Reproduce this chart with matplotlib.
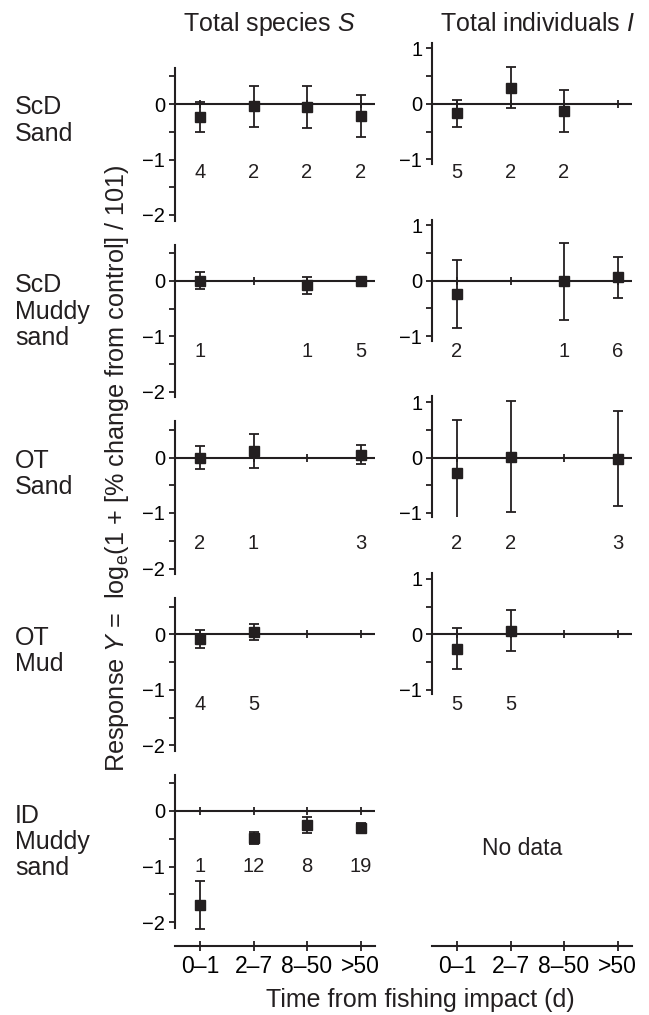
import numpy as np
import matplotlib
matplotlib.use("Agg")
import matplotlib.pyplot as plt

plt.rcParams['font.family'] = ['Liberation Sans', 'DejaVu Sans']
plt.rcParams['mathtext.fontset'] = 'custom'
plt.rcParams['mathtext.rm'] = 'Liberation Sans'
plt.rcParams['mathtext.it'] = 'Liberation Sans:italic'

nan = np.nan

# time classes and habitat rows
times = ["0–1", "2–7", "8–50", ">50"]
habitats = ["ScD\nSand", "ScD\nMuddy\nsand", "OT\nSand", "OT\nMud", "ID\nMuddy\nsand"]

# total species S (mean response, error, number of studies)
species_mean = [
    [-0.23, -0.045, -0.055, -0.215],
    [0.0, nan, -0.08, -0.01],
    [0.0, 0.12, nan, 0.05],
    [-0.08, 0.035, nan, nan],
    [-1.70, -0.485, -0.25, -0.30],
]
species_err = [
    [0.27, 0.375, 0.375, 0.375],
    [0.15, nan, 0.15, 0.05],
    [0.20, 0.31, nan, 0.17],
    [0.165, 0.145, nan, nan],
    [0.43, 0.115, 0.15, 0.08],
]
species_n = [
    ["4", "2", "2", "2"],
    ["1", "", "1", "5"],
    ["2", "1", "", "3"],
    ["4", "5", "", ""],
    ["1", "12", "8", "19"],
]

# total individuals I (no data for ID muddy sand)
indiv_mean = [
    [-0.17, 0.295, -0.12, nan],
    [-0.24, nan, -0.01, 0.06],
    [-0.28, 0.015, nan, -0.02],
    [-0.26, 0.065, nan, nan],
]
indiv_err = [
    [0.24, 0.375, 0.38, nan],
    [0.61, nan, 0.69, 0.37],
    [0.96, 1.0, nan, 0.86],
    [0.37, 0.365, nan, nan],
]
indiv_n = [
    ["5", "2", "2", ""],
    ["2", "", "1", "6"],
    ["2", "2", "", "3"],
    ["5", "5", "", ""],
]

# height of the n labels in each row (data units)
n_label_y = [-1.24, -1.28, -1.55, -1.27, -1.0]

W, H = 649, 1015
INK = '#231f20'
unit_px = 55.5
zero_px = [104 + 176.75 * i for i in range(5)]
xlims = (-0.467, 3.27)

fig = plt.figure(figsize=(W / 100, H / 100), dpi=100)


def add_panel(x0, ylim, z):
    top = z - ylim[1] * unit_px
    bottom = z - ylim[0] * unit_px
    ax = fig.add_axes([x0 / W, 1 - bottom / H, 200 / W, (bottom - top) / H])
    ax.set_xlim(*xlims)
    ax.set_ylim(*ylim)
    ax.patch.set_alpha(0)
    for s in ['top', 'right', 'bottom']:
        ax.spines[s].set_visible(False)
    for s in ['left', 'bottom']:
        ax.spines[s].set_linewidth(1.5)
        ax.spines[s].set_color(INK)
    ax.set_xticks([])
    ax.tick_params(axis='y', which='both', direction='out', length=4.5,
                   width=1.3, color=INK, labelsize=14.5, pad=2.5)
    return ax


def draw_series(ax, mean, err, nlab, ny):
    x = np.arange(len(times))
    ax.axhline(0, color=INK, lw=1.5, zorder=1)
    ax.plot(x, np.zeros(len(x)), '|', ms=5.5, mew=1.3, color=INK, zorder=2)
    ax.errorbar(x, mean, yerr=err, fmt='s', ms=7, color=INK, ecolor=INK,
                elinewidth=1.3, capsize=3.6, capthick=1.3, zorder=3)
    for j, n in enumerate(nlab):
        ax.text(j, ny, n, ha='center', va='center', fontsize=14.5, color=INK)


def bottom_axis(ax):
    ax.spines['bottom'].set_visible(True)
    ax.set_xticks(range(len(times)))
    ax.set_xticklabels(times)
    ax.tick_params(axis='x', direction='inout', length=7, width=1.3,
                   color=INK, labelsize=16.5, pad=3)


for i in range(5):
    z = zero_px[i]
    last = i == 4
    ylim = (-2.43, 0.65) if last else (-2.1, 0.65)
    ax = add_panel(175, ylim, z)
    ax.set_yticks([-2, -1, 0])
    ax.set_yticks([-1.5, -0.5, 0.5], minor=True)
    draw_series(ax, species_mean[i], species_err[i], species_n[i], n_label_y[i])
    if last:
        ax.spines['left'].set_bounds(-2.1, 0.65)
        bottom_axis(ax)

    if not last:
        axr = add_panel(432, (-1.08, 1.1), z)
        axr.set_yticks([-1, 0, 1])
        axr.set_yticks([-0.5, 0.5], minor=True)
        draw_series(axr, indiv_mean[i], indiv_err[i], indiv_n[i], n_label_y[i])
    else:
        axr = add_panel(432, ylim, z)
        axr.spines['left'].set_visible(False)
        axr.set_yticks([])
        bottom_axis(axr)
        axr.text(1.22, -0.67, "No data", ha='center', va='center',
                 fontsize=16.5, color=INK)

    nlines = habitats[i].count("\n") + 1
    fig.text(15 / W, 1 - (z + (nlines - 1) * 14.5 + 2) / H, habitats[i],
             ha='left', va='center', fontsize=18, linespacing=1.12, color=INK)

fig.text(269 / W, 1 - 24 / H, r"Total species $\mathit{S}$",
         ha='center', va='center', fontsize=18, color=INK)
fig.text(537 / W, 1 - 24 / H, r"Total individuals $\mathit{I}$",
         ha='center', va='center', fontsize=18, color=INK)
fig.text(117 / W, 1 - 468 / H,
         r"Response $\mathit{Y}$ =  log$_\mathrm{e}$(1 + [% change from control] / 101)",
         rotation=90, ha='center', va='center', fontsize=18.2, color=INK)
fig.text(420 / W, 1 - 1000 / H, "Time from fishing impact (d)",
         ha='center', va='center', fontsize=18, color=INK)

fig.savefig("out.png", dpi=100)
